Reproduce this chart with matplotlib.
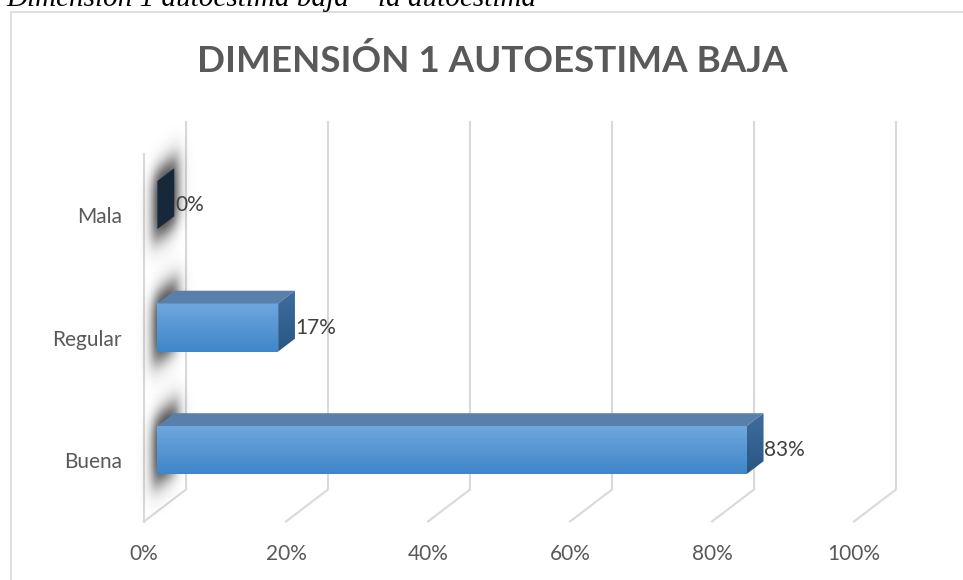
import numpy as np
import matplotlib.pyplot as plt
from matplotlib.patches import Polygon, Rectangle
from matplotlib.colors import LinearSegmentedColormap

# datos del grafico
categorias = ['Buena', 'Regular', 'Mala']
porcentajes = [83, 17, 0]
ticks = [0, 20, 40, 60, 80, 100]
tick_labels = ['0%', '20%', '40%', '60%', '80%', '100%']
titulo = 'DIMENSIÓN 1 AUTOESTIMA BAJA'
encabezado = 'Dimensión 1 autoestima baja – la autoestima'

plt.rcParams['font.family'] = ['Lato', 'DejaVu Sans']

W, H = 963, 580
fig = plt.figure(figsize=(W / 100, H / 100), dpi=100)

# borde del area del grafico
fig.patches.append(Rectangle((11 / W, -0.02), 1.1, 1 - 12 / H + 0.02, transform=fig.transFigure,
                             fill=False, edgecolor='#D9D9D9', lw=1.2))
fig.text(6 / W, 1 - 6 / H, encabezado, family='Liberation Serif', style='italic',
         fontsize=21, va='baseline', ha='left', color='black')
fig.text(492 / W, 1 - 72 / H, titulo, fontsize=26.5, fontweight='bold', color='#595959',
         ha='center', va='baseline')

# plano frontal de la caja 3d (pixeles)
x0px, x1px = 144, 854
ybot, ytop = 521.5, 154
ax = fig.add_axes([x0px / W, 1 - ybot / H, (x1px - x0px) / W, (ybot - ytop) / H])
ax.set_xlim(0, 100)
ax.set_ylim(-0.5, 2.5)
for s in ax.spines.values():
    s.set_visible(False)

px_x = (x1px - x0px) / 100.0
px_y = (ybot - ytop) / 3.0
DX = 42 / px_x      # profundidad en unidades de datos
DY = 32 / px_y
f0, f1 = 0.32, 0.72  # posicion de la barra en la profundidad
h = 48 / px_y

# lineas de cuadricula (pared trasera + piso)
grid = '#D9D9D9'
for t in ticks:
    ax.plot([t, t + DX, t + DX], [-0.5, -0.5 + DY, 2.5 + DY], color=grid, lw=1.5,
            clip_on=False, zorder=1, solid_joinstyle='miter')
ax.plot([0, 0], [-0.5, 2.5], color=grid, lw=1.5, clip_on=False, zorder=1)

cmap_front = LinearSegmentedColormap.from_list('f', ['#6EA7DE', '#3F86C9'])
cmap_side = LinearSegmentedColormap.from_list('s', ['#3E6C9C', '#2A5785'])
grad = np.linspace(0, 1, 64).reshape(-1, 1)


def sig(z):
    return 1 / (1 + np.exp(-z))


for i, (cat, v) in enumerate(zip(categorias, porcentajes)):
    yc0 = i + f0 * DY
    yc1 = i + f1 * DY
    # sombra difusa sobre la pared izquierda
    xs = np.linspace(-0.3 * DX, 1.3 * DX, 80)
    ys = np.linspace(i - 0.7, i + 0.7 + DY, 260)
    X, Y = np.meshgrid(xs, ys)
    u = X / DX
    w = Y - i - u * DY
    a = (sig((u - 0.22) / 0.08) * sig((0.8 - u) / 0.08) *
         sig((w + 0.28) / 0.055) * sig((0.28 - w) / 0.055)) * 0.9
    rgba = np.zeros(X.shape + (4,))
    rgba[..., :3] = 0.1
    rgba[..., 3] = a
    ax.imshow(rgba, extent=[xs[0], xs[-1], ys[0], ys[-1]], origin='lower', aspect='auto',
              zorder=2, interpolation='bilinear', clip_on=False)
    lx0 = f0 * DX
    # caras de la barra
    if v > 0:
        ax.imshow(grad, cmap=cmap_front, extent=[lx0, v + lx0, yc0 - h / 2, yc0 + h / 2],
                  origin='upper', aspect='auto', zorder=5, interpolation='bilinear')
        top = [(lx0, yc0 + h / 2), (v + lx0, yc0 + h / 2), (v + f1 * DX, yc1 + h / 2), (f1 * DX, yc1 + h / 2)]
        ax.add_patch(Polygon(top, closed=True, facecolor='#5880AB', edgecolor='none', zorder=5, clip_on=False))
        side = [(v + lx0, yc0 - h / 2), (v + lx0, yc0 + h / 2), (v + f1 * DX, yc1 + h / 2), (v + f1 * DX, yc1 - h / 2)]
        p = Polygon(side, closed=True, facecolor='none', edgecolor='none', zorder=5)
        ax.add_patch(p)
        im = ax.imshow(grad, cmap=cmap_side, extent=[v + lx0, v + f1 * DX, yc0 - h / 2, yc1 + h / 2],
                       origin='upper', aspect='auto', zorder=5, interpolation='bilinear')
        im.set_clip_path(p)
    else:
        side = [(lx0, yc0 - h / 2), (lx0, yc0 + h / 2), (f1 * DX, yc1 + h / 2), (f1 * DX, yc1 - h / 2)]
        ax.add_patch(Polygon(side, closed=True, facecolor='#17283A', edgecolor='none', zorder=5, clip_on=False))
    ax.text(v + f1 * DX + 0.1, yc0, '%d%%' % v, fontsize=15, color='#404040',
            ha='left', va='center', zorder=6)

ax.set_xlim(0, 100)
ax.set_ylim(-0.5, 2.5)
ax.set_xticks(ticks, tick_labels)
ax.set_yticks(range(len(categorias)), categorias)
ax.tick_params(axis='x', length=0, pad=16, labelsize=15, labelcolor='#595959')
ax.tick_params(axis='y', length=0, pad=16, labelsize=15, labelcolor='#595959')
ax.patch.set_visible(False)

fig.savefig('out.png', dpi=100)
